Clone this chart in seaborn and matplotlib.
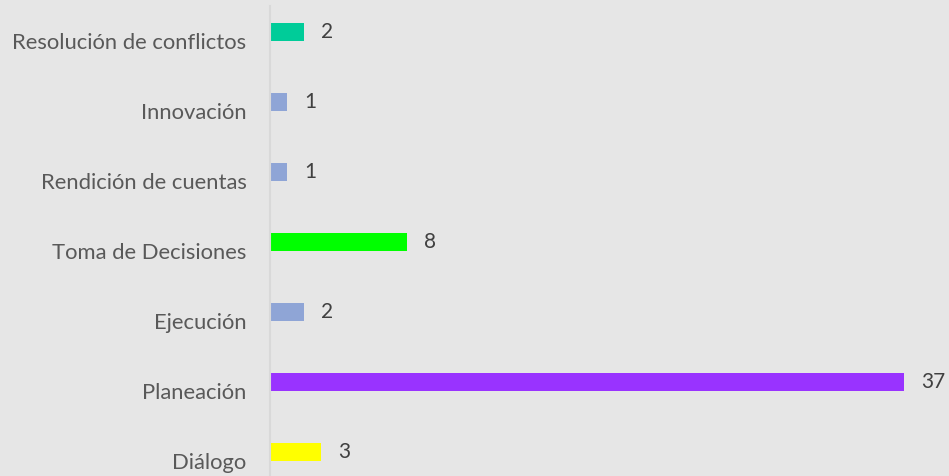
import numpy as np
import pandas as pd
import seaborn as sns
import matplotlib.pyplot as plt

categories = ["Resolución de conflictos", "Innovación", "Rendición de cuentas",
              "Toma de Decisiones", "Ejecución", "Planeación", "Diálogo"]
values = [2, 1, 1, 8, 2, 37, 3]
bar_colors = ["#00CC99", "#8FA5D6", "#8FA5D6", "#00FF00", "#8FA5D6", "#9933FF", "#FFFF00"]

# second (empty) series keeps the bars offset like the original clustered chart
df = pd.DataFrame({
    "categoria": categories * 2,
    "valor": values + [np.nan] * len(values),
    "serie": ["Serie1"] * len(values) + ["Serie2"] * len(values),
})

sns.set_style("white")
plt.rcParams["font.family"] = ["Lato", "DejaVu Sans"]

fig = plt.figure(figsize=(9.49, 4.76), dpi=100)
fig.patch.set_facecolor("#E6E6E6")
ax = fig.add_axes([270 / 949, -20 / 476, 682 / 949, 490 / 476])
ax.set_facecolor("#E6E6E6")

sns.barplot(data=df, y="categoria", x="valor", hue="serie", order=categories,
            orient="h", dodge=True, width=0.52, ax=ax, legend=False, linewidth=0)

bars = ax.containers[0]
for patch, c in zip(bars, bar_colors):
    patch.set_facecolor(c)
ax.bar_label(bars, labels=[str(v) for v in values], padding=12,
             fontsize=15, color="#404040")

ax.set_xlim(0, 39.8)
ax.set_xlabel("")
ax.set_ylabel("")
ax.set_xticks([])
ax.tick_params(axis="y", length=0, pad=17, labelsize=15.8, labelcolor="#595959")
for s in ["top", "right", "bottom"]:
    ax.spines[s].set_visible(False)
ax.spines["left"].set_color("#D9D9D9")
ax.spines["left"].set_linewidth(1.5)

fig.savefig("out.png", dpi=100, facecolor=fig.get_facecolor())
